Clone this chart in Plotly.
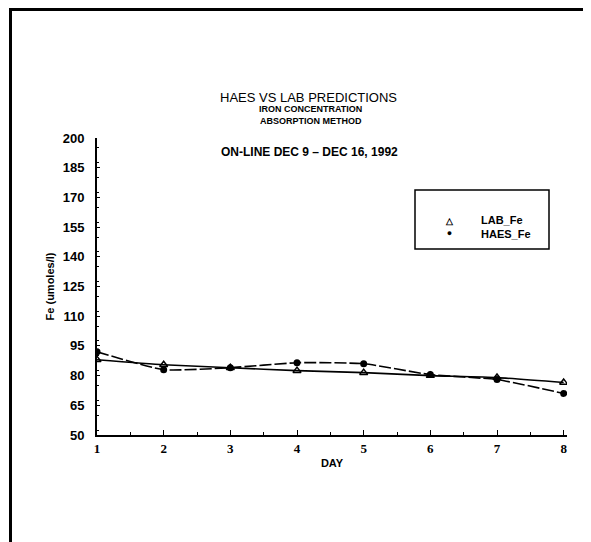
import plotly.graph_objects as go

days = [1, 2, 3, 4, 5, 6, 7, 8]
lab_fe = [88, 85.5, 84, 82.5, 81.5, 80, 79, 76.5]
haes_fe = [92, 83, 84, 86.5, 86, 80.5, 78, 71]
y_ticks = [50, 65, 80, 95, 110, 125, 140, 155, 170, 185, 200]

fig = go.Figure()
fig.add_trace(go.Scatter(
    x=days, y=lab_fe, name="LAB_Fe", mode="lines+markers", showlegend=False,
    line=dict(color="black", width=1.6, shape="spline", smoothing=0.5),
    marker=dict(symbol="triangle-up-open", size=7, color="black", line=dict(width=1.5)),
))
fig.add_trace(go.Scatter(
    x=days, y=haes_fe, name="HAES_Fe", mode="lines+markers", showlegend=False,
    line=dict(color="black", width=1.6, dash="12px,3px", shape="spline", smoothing=0.5),
    marker=dict(symbol="circle", size=7, color="black"),
))

# page has an 8px body margin: screen coords -> figure coords
OFF = 8
FW, FH = 591 - OFF, 542 - OFF
L, T = 97 - OFF, 138 - OFF
Rx, By = 567 - OFF, 435 - OFF
W, H = Rx - L, By - T

def px(x):
    return (x - OFF - L) / W

def py(y):
    return (By - (y - OFF)) / H

def note(text, x, y, size, bold=True, xanchor="center", align="center"):
    return dict(text=text, x=px(x), y=py(y), xref="paper", yref="paper",
                xanchor=xanchor, yanchor="middle", align=align, showarrow=False,
                font=dict(size=size, weight="bold" if bold else "normal"))

fig.update_layout(
    width=FW, height=FH,
    margin=dict(l=L, r=FW - Rx, t=T, b=FH - By),
    paper_bgcolor="white", plot_bgcolor="white",
    font=dict(family="Liberation Sans", color="black"),
    showlegend=False,
    modebar=dict(bgcolor="rgba(0,0,0,0)", color="rgba(0,0,0,0)", activecolor="rgba(0,0,0,0)"),
    xaxis=dict(
        range=[1, 8.05], tickvals=days, ticktext=[str(d) for d in days],
        showgrid=False, zeroline=False,
        showline=True, linecolor="black", linewidth=2,
        ticks="inside", ticklen=5, tickwidth=1.2, tickcolor="black",
        minor=dict(dtick=0.5, ticks="inside", ticklen=3, tickcolor="black"),
        tickfont=dict(family="Liberation Serif", size=13, weight="bold"),
        title=dict(text="DAY", font=dict(size=11, weight="bold"), standoff=5),
    ),
    yaxis=dict(
        range=[50, 200], tickvals=y_ticks, ticktext=[str(v) for v in y_ticks],
        showgrid=False, zeroline=False,
        showline=True, linecolor="black", linewidth=2,
        ticks="inside", ticklen=3, tickwidth=1.2, tickcolor="black",
        minor=dict(dtick=7.5, ticks="inside", ticklen=2, tickcolor="black"),
        tickfont=dict(size=13, weight="bold"),
        ticklabelstandoff=8,
        title=dict(text="Fe (umoles/l)", font=dict(size=11, weight="bold"), standoff=6),
    ),
    shapes=[
        dict(type="line", xref="paper", yref="paper", x0=px(9), x1=px(590), y0=py(9.5), y1=py(9.5),
             line=dict(color="black", width=3)),
        dict(type="line", xref="paper", yref="paper", x0=px(10.5), x1=px(10.5), y0=py(8), y1=py(542),
             line=dict(color="black", width=3)),
        dict(type="rect", xref="paper", yref="paper", x0=px(415), x1=px(549), y0=py(249), y1=py(190),
             line=dict(color="black", width=1.5)),
    ],
    annotations=[
        note("HAES VS LAB PREDICTIONS", 308, 97, 13, bold=False),
        note("IRON CONCENTRATION<br>ABSORPTION METHOD", 310, 115, 9),
        note("ON-LINE DEC 9 – DEC 16, 1992", 309, 152, 12),
        # legend
        note("△<br>●", 449, 226.5, 9),
        note("LAB_Fe<br>HAES_Fe", 479, 226.5, 11, xanchor="left", align="left"),
    ],
)

fig.write_html("out.html")
